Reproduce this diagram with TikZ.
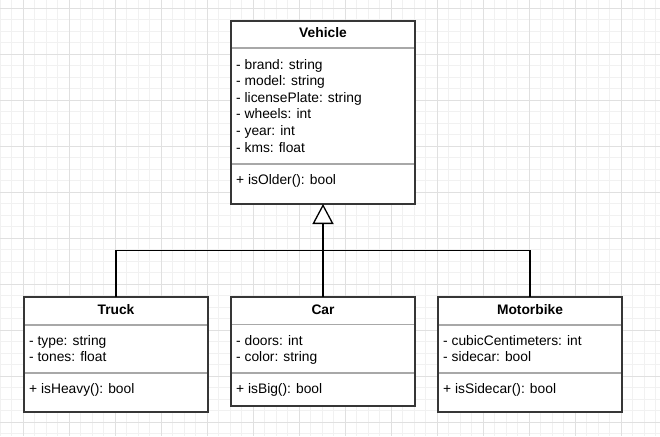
\documentclass[tikz,border=0pt]{standalone}
\usepackage{fontspec}
\setmainfont{Liberation Sans}
\usetikzlibrary{arrows.meta}
\definecolor{gridminor}{HTML}{F1F1F1}
\definecolor{gridmajor}{HTML}{E0E0E0}
\definecolor{boxline}{HTML}{363636}
\definecolor{sepline}{HTML}{A8A8A8}
\begin{document}
\begin{tikzpicture}[x=1pt,y=-1pt,
  umlbox/.style={draw=boxline,line width=1.6pt,fill=white,inner sep=0pt,outer sep=0pt,anchor=north west,minimum width=184pt},
  sepl/.style={draw=sepline,line width=1.4pt,shorten <=0.8pt,shorten >=0.8pt},
  attr/.style={anchor=base west,inner sep=0pt,font=\fontsize{13.8}{16.6}\selectfont},
  ttl/.style={anchor=base,inner sep=0pt,font=\fontsize{13.8}{16.6}\selectfont\bfseries},
  conn/.style={draw=black,line width=1.3pt}]
\useasboundingbox (0,0) rectangle (660,436);
\fill[white] (0,0) rectangle (660,436);
% grid
\foreach \i in {0,...,57} \draw[gridminor,line width=0.9pt] ({0.3+11.5*\i},0) -- ++(0,436);
\foreach \i in {0,...,37} \draw[gridminor,line width=0.9pt] (0,{8.3+11.5*\i}) -- ++(660,0);
\foreach \i in {0,...,13} \draw[gridmajor,line width=0.9pt] ({23.3+46*\i},0) -- ++(0,436);
\foreach \i in {0,...,9} \draw[gridmajor,line width=0.9pt] (0,{8.3+46*\i}) -- ++(660,0);
% boxes
\node[umlbox,minimum height=183pt] (vehicle) at (231,21) {};
\node[umlbox,minimum height=115pt] (truck) at (24,297) {};
\node[umlbox,minimum height=109pt] (car) at (231,297) {};
\node[umlbox,minimum height=115pt] (moto) at (438,297) {};
% separators
\draw[sepl] (vehicle.west |- 0,48) -- (vehicle.east |- 0,48);
\draw[sepl] (vehicle.west |- 0,164) -- (vehicle.east |- 0,164);
\draw[sepl] (truck.west |- 0,325) -- (truck.east |- 0,325);
\draw[sepl] (truck.west |- 0,373) -- (truck.east |- 0,373);
\draw[sepl] (car.west |- 0,324.5) -- (car.east |- 0,324.5);
\draw[sepl] (car.west |- 0,373) -- (car.east |- 0,373);
\draw[sepl] (moto.west |- 0,325) -- (moto.east |- 0,325);
\draw[sepl] (moto.west |- 0,373) -- (moto.east |- 0,373);
% Vehicle texts
\node[ttl] (vt) at (323,37.7) {Vehicle};
\node[attr] (v1) at (236,69) {- brand: string};
\node[attr] (v2) at (236,85.6) {- model: string};
\node[attr] (v3) at (236,102.2) {- licensePlate: string};
\node[attr] (v4) at (236,118.8) {- wheels: int};
\node[attr] (v5) at (236,135.4) {- year: int};
\node[attr] (v6) at (236,152) {- kms: float};
\node[attr] (v7) at (236,184) {+ isOlder(): bool};
% Truck texts
\node[ttl] (tt) at (116,314) {Truck};
\node[attr] (t1) at (29,345) {- type: string};
\node[attr] (t2) at (29,361.6) {- tones: float};
\node[attr] (t3) at (29,393) {+ isHeavy(): bool};
% Car texts
\node[ttl] (ct) at (323,314) {Car};
\node[attr] (c1) at (236,345) {- doors: int};
\node[attr] (c2) at (236,361.6) {- color: string};
\node[attr] (c3) at (236,393) {+ isBig(): bool};
% Motorbike texts
\node[ttl] (mt) at (530,314) {Motorbike};
\node[attr] (m1) at (443,345) {- cubicCentimeters: int};
\node[attr] (m2) at (443,361.6) {- sidecar: bool};
\node[attr] (m3) at (443,393) {+ isSidecar(): bool};
% connectors
\coordinate (j) at (323,250.7);
\draw[conn] (truck.north) |- (j) -| (moto.north);
\draw[conn,-{Triangle[open,length=20pt,width=21pt,fill=white]}] (car.north) -- (vehicle.south);
\end{tikzpicture}
\end{document}
